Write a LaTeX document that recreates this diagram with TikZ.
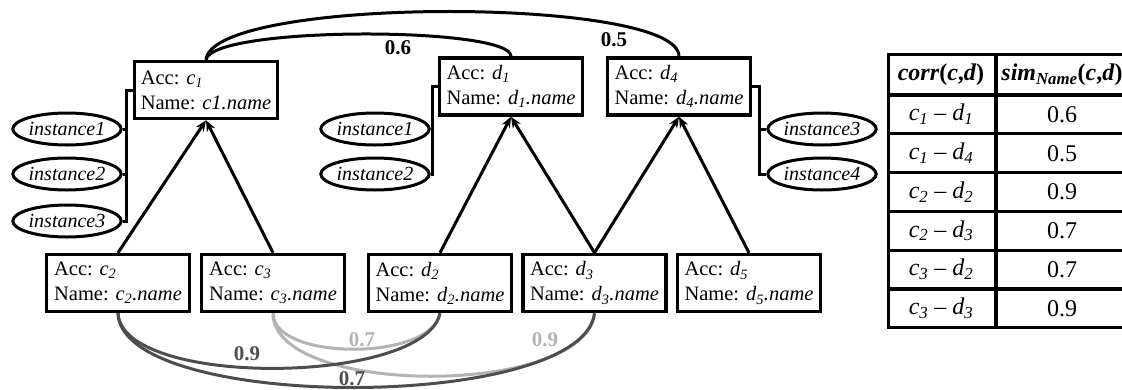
\documentclass[tikz,border=0pt]{standalone}
\usepackage{fontspec}
\setmainfont{Liberation Serif}
\usetikzlibrary{arrows.meta,shapes.geometric,calc}
\definecolor{darkg}{HTML}{4D4D4D}
\definecolor{lightg}{HTML}{B3B3B3}
\begin{document}
\begin{tikzpicture}[x=1pt,y=-1pt,
  box/.style={draw,line width=3.5pt,rectangle,minimum width=143pt,inner xsep=0pt,inner ysep=0pt,minimum height=57pt,align=left,font=\fontsize{20.5}{25}\selectfont},
  inst/.style={draw,ellipse,line width=3pt,minimum width=107pt,minimum height=32pt,inner sep=0pt,font=\fontsize{20}{24}\selectfont\itshape},
  link/.style={line width=3pt},
  arr/.style={line width=3pt,-{Stealth[length=11pt,width=9pt]}},
  toparc/.style={line width=3pt},
  dk/.style={line width=3pt,draw=darkg},
  lt/.style={line width=3pt,draw=lightg},
  lab/.style={font=\fontsize{21}{24}\selectfont\bfseries,inner sep=0pt},
  tab/.style={font=\fontsize{24}{28}\selectfont,inner sep=0pt},
  tline/.style={line width=3.3pt},
]
\useasboundingbox (0,0) rectangle (1122,389);

% boxes
\node[box] (c1) at (206,90) {Acc: \textit{c\textsubscript{1}}\\Name: \textit{c1.name}};
\node[box] (d1) at (511,86.5) {Acc: \textit{d\textsubscript{1}}\\Name: \textit{d\textsubscript{1}.name}};
\node[box] (d4) at (679,86.5) {Acc: \textit{d\textsubscript{4}}\\Name: \textit{d\textsubscript{4}.name}};
\node[box] (c2) at (118,283) {Acc: \textit{c\textsubscript{2}}\\Name: \textit{c\textsubscript{2}.name}};
\node[box] (c3) at (273,283) {Acc: \textit{c\textsubscript{3}}\\Name: \textit{c\textsubscript{3}.name}};
\node[box] (d2) at (440,283) {Acc: \textit{d\textsubscript{2}}\\Name: \textit{d\textsubscript{2}.name}};
\node[box] (d3) at (594.5,283) {Acc: \textit{d\textsubscript{3}}\\Name: \textit{d\textsubscript{3}.name}};
\node[box] (d5) at (749,283) {Acc: \textit{d\textsubscript{5}}\\Name: \textit{d\textsubscript{5}.name}};

% instances
\node[inst] (ca) at (67,129) {instance1};
\node[inst] (cb) at (67,174) {instance2};
\node[inst] (cc) at (67,221) {instance3};
\node[inst] (da) at (375,129) {instance1};
\node[inst] (db) at (375,174) {instance2};
\node[inst] (dc) at (822,129) {instance3};
\node[inst] (dd) at (822,174) {instance4};

\draw[link] (c1.west) -- ++(-6,0) |- (ca.east);
\draw[link] (c1.west) -- ++(-6,0) |- (cb.east);
\draw[link] (c1.west) -- ++(-6,0) |- (cc.east);
\draw[link] (d1.west) -- ++(-5,0) |- (da.east);
\draw[link] (d1.west) -- ++(-5,0) |- (db.east);
\draw[link] (d4.east) -- ++(7,0) |- (dc.west);
\draw[link] (d4.east) -- ++(7,0) |- (dd.west);

% hierarchy arrows
\draw[arr] (c2.north) -- (c1.south);
\draw[arr] (c3.north) -- (c1.south);
\draw[arr] (d2.north) -- (d1.south);
\draw[arr] (d3.north) -- (d1.south);
\draw[arr] (d3.north) -- (d4.south);
\draw[arr] (d5.north) -- (d4.south);

% top arcs
\draw[toparc] (c1.north) .. controls +(6,-34) and +(0,-30) .. (d1.north);
\draw[toparc] (c1.north) .. controls +(6,-64) and +(0,-60) .. (d4.north);
\node[lab] (l06) at (398,47.5) {0.6};
\node[lab] (l05) at (614,40) {0.5};

% bottom arcs
\draw[lt] (c3.south) .. controls +(0,48) and +(-8,48) .. (d2.south);
\draw[lt] (c3.south) .. controls +(0,84) and +(-8,84) .. (d3.south);
\draw[dk] (c2.south) .. controls +(4,75) and +(-15,72) .. (d2.south);
\draw[dk] (c2.south) .. controls +(3,99) and +(-12,99) .. (d3.south);
\node[lab,text=darkg] (b09) at (247,354) {0.9};
\node[lab,text=darkg] (b07) at (352,379) {0.7};
\node[lab,text=lightg] (g07) at (362,340) {0.7};
\node[lab,text=lightg] (g09) at (545,340) {0.9};

% table
\draw[tline] (888.5,54.5) rectangle (1128,327.8);
\draw[tline] (996,54.5) -- (996,327.8);
\foreach \yy in {95,133.8,172.6,211.4,250.2,289} {\draw[tline] (888.5,\yy) -- (1128,\yy);}
\node[tab] (h1) at (941,75) {\textbf{\textit{corr}(\textit{c},\textit{d})}};
\node[tab] (h2) at (1062,75) {\textbf{\textit{sim\textsubscript{Name}}(\textit{c},\textit{d})}};
\node[tab] (r1a) at (941,114.4) {\textit{c\textsubscript{1}} – \textit{d\textsubscript{1}}};
\node[tab] (r1b) at (1062,114.4) {0.6};
\node[tab] (r2a) at (941,153.2) {\textit{c\textsubscript{1}} – \textit{d\textsubscript{4}}};
\node[tab] (r2b) at (1062,153.2) {0.5};
\node[tab] (r3a) at (941,192) {\textit{c\textsubscript{2}} – \textit{d\textsubscript{2}}};
\node[tab] (r3b) at (1062,192) {0.9};
\node[tab] (r4a) at (941,230.8) {\textit{c\textsubscript{2}} – \textit{d\textsubscript{3}}};
\node[tab] (r4b) at (1062,230.8) {0.7};
\node[tab] (r5a) at (941,269.6) {\textit{c\textsubscript{3}} – \textit{d\textsubscript{2}}};
\node[tab] (r5b) at (1062,269.6) {0.7};
\node[tab] (r6a) at (941,308.4) {\textit{c\textsubscript{3}} – \textit{d\textsubscript{3}}};
\node[tab] (r6b) at (1062,308.4) {0.9};
\end{tikzpicture}
\end{document}
